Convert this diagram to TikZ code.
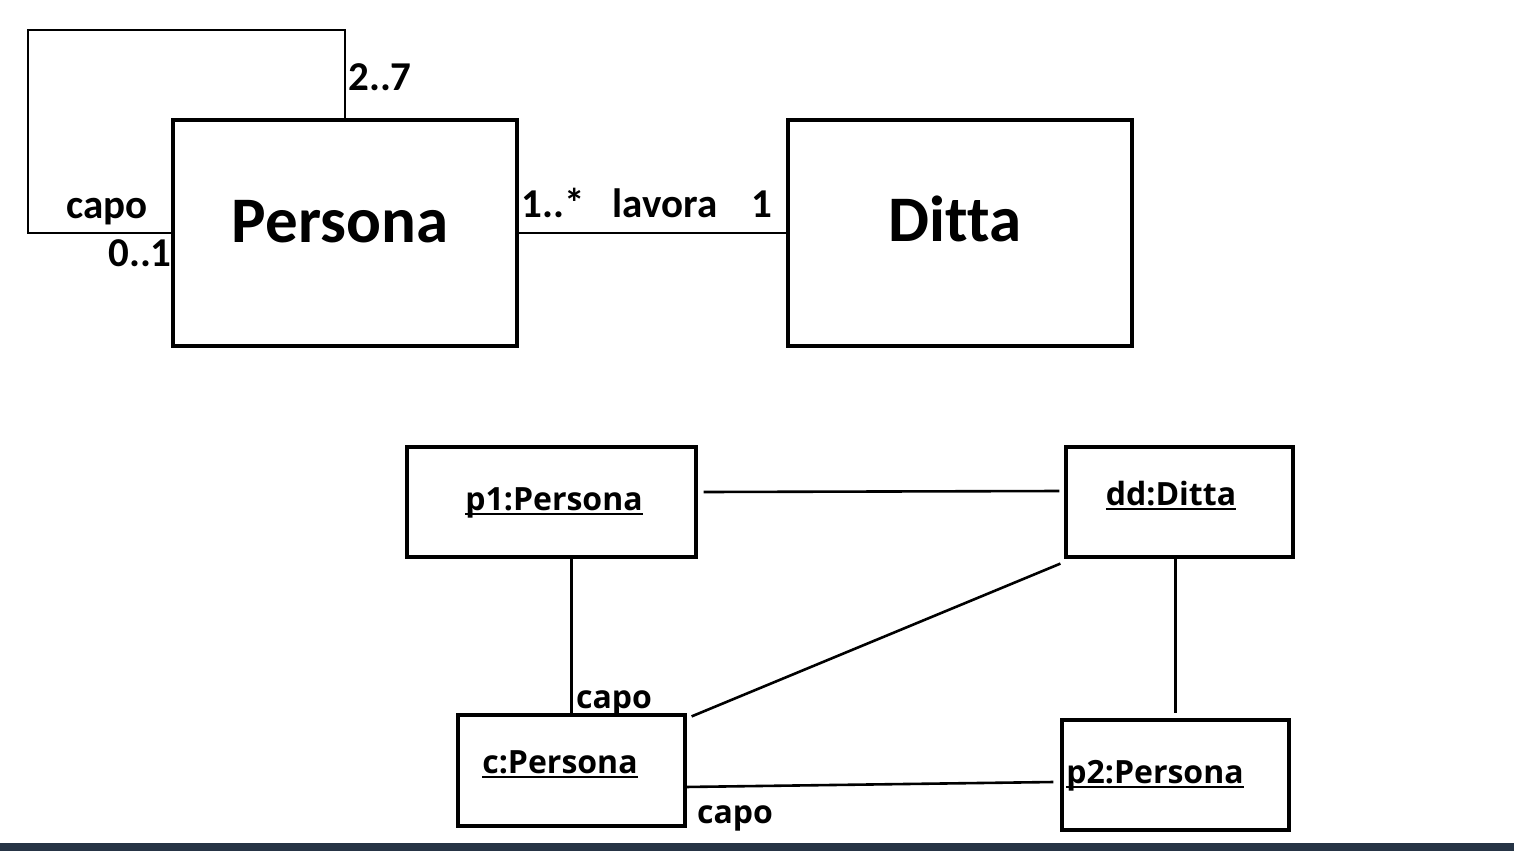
\documentclass[tikz,border=0pt]{standalone}
\usepackage{fontspec}
\setmainfont{Carlito}[Ligatures=NoCommon]
\newfontfamily\objfont{Open Sans}
\definecolor{barcolor}{RGB}{38,52,69}
\newcommand{\objul}[1]{\setbox0=\hbox{#1}\rlap{\rule[-2.6pt]{\wd0}{1pt}}\box0}
\begin{document}
\begin{tikzpicture}[x=0.5pt,y=-0.5pt,
    box/.style={draw, line width=1.6pt, inner sep=0pt},
    thinline/.style={line width=0.75pt},
    link/.style={line width=1.3pt},
    clsname/.style={font=\bfseries\fontsize{32.5}{38}\selectfont, anchor=base, inner sep=0pt},
    lbl/.style={font=\bfseries\fontsize{20.5}{24}\selectfont, anchor=base, inner sep=0pt},
    objlbl/.style={font=\objfont\bfseries\fontsize{16}{19}\selectfont, anchor=base, inner sep=0pt}]
    \useasboundingbox (0,0) rectangle (1514,851);
    \fill[barcolor] (0,843) rectangle (1514,851);

    %diagramma delle classi
    \node[box, minimum width=172pt, minimum height=113pt] (persona) at (345,233) {};
    \node[box, minimum width=172pt, minimum height=113pt] (ditta) at (960,233) {};
    \node[clsname] (personaName) at (340,242) {Persona};
    \node[clsname] (dittaName) at (955,241) {Ditta};

    \coordinate (loopCorner) at (28,30);
    \draw[thinline] (persona.north) |- (loopCorner) |- (persona.west);
    \draw[thinline] (persona.east) -- (ditta.west);

    \foreach \nm/\x/\y/\txt in {
        multCapo/380/90/{2..7}, ruoloCapo/107/218/{capo}, multSub/140/266/{0..1},
        multPersona/553/217/{1..*}, assocName/665/217/{lavora}, multDitta/762/217/{1}%
    } {
        \node[lbl] (\nm) at (\x,\y) {\txt};
    }

    %diagramma degli oggetti
    \node[box, minimum width=144.5pt, minimum height=55pt] (p1) at (551.5,502) {};
    \node[box, minimum width=113.5pt, minimum height=55pt] (dd) at (1179.5,502) {};
    \node[box, minimum width=113.5pt, minimum height=55.5pt] (c) at (571.5,770.5) {};
    \node[box, minimum width=113.5pt, minimum height=55pt] (p2) at (1175.5,775) {};

    \foreach \nm/\x/\y/\txt in {
        p1Name/554/510/{p1:Persona}, ddName/1171/505/{dd:Ditta},
        cName/560/773/{c:Persona}, p2Name/1155/783/{p2:Persona}%
    } {
        \node[objlbl] (\nm) at (\x,\y) {\objul{\txt}};
    }

    \draw[link] ([shift={(6,-10)}]p1.east) -- ([shift={(-5,-11)}]dd.west);
    \draw[link] (p1.south -| c.north) -- (c.north);
    \draw[link] ([shift={(-4,5)}]dd.south west) -- ([shift={(5,3)}]c.north east);
    \draw[link] (p2.north |- dd.south) -- ([shift={(0,-5)}]p2.north);
    \draw[link] ([shift={(-2,16.5)}]c.east) -- ([shift={(-7,7)}]p2.west);

    \node[objlbl] (capoUp) at (614,708) {capo};
    \node[objlbl] (capoDown) at (735,823) {capo};
\end{tikzpicture}
\end{document}
